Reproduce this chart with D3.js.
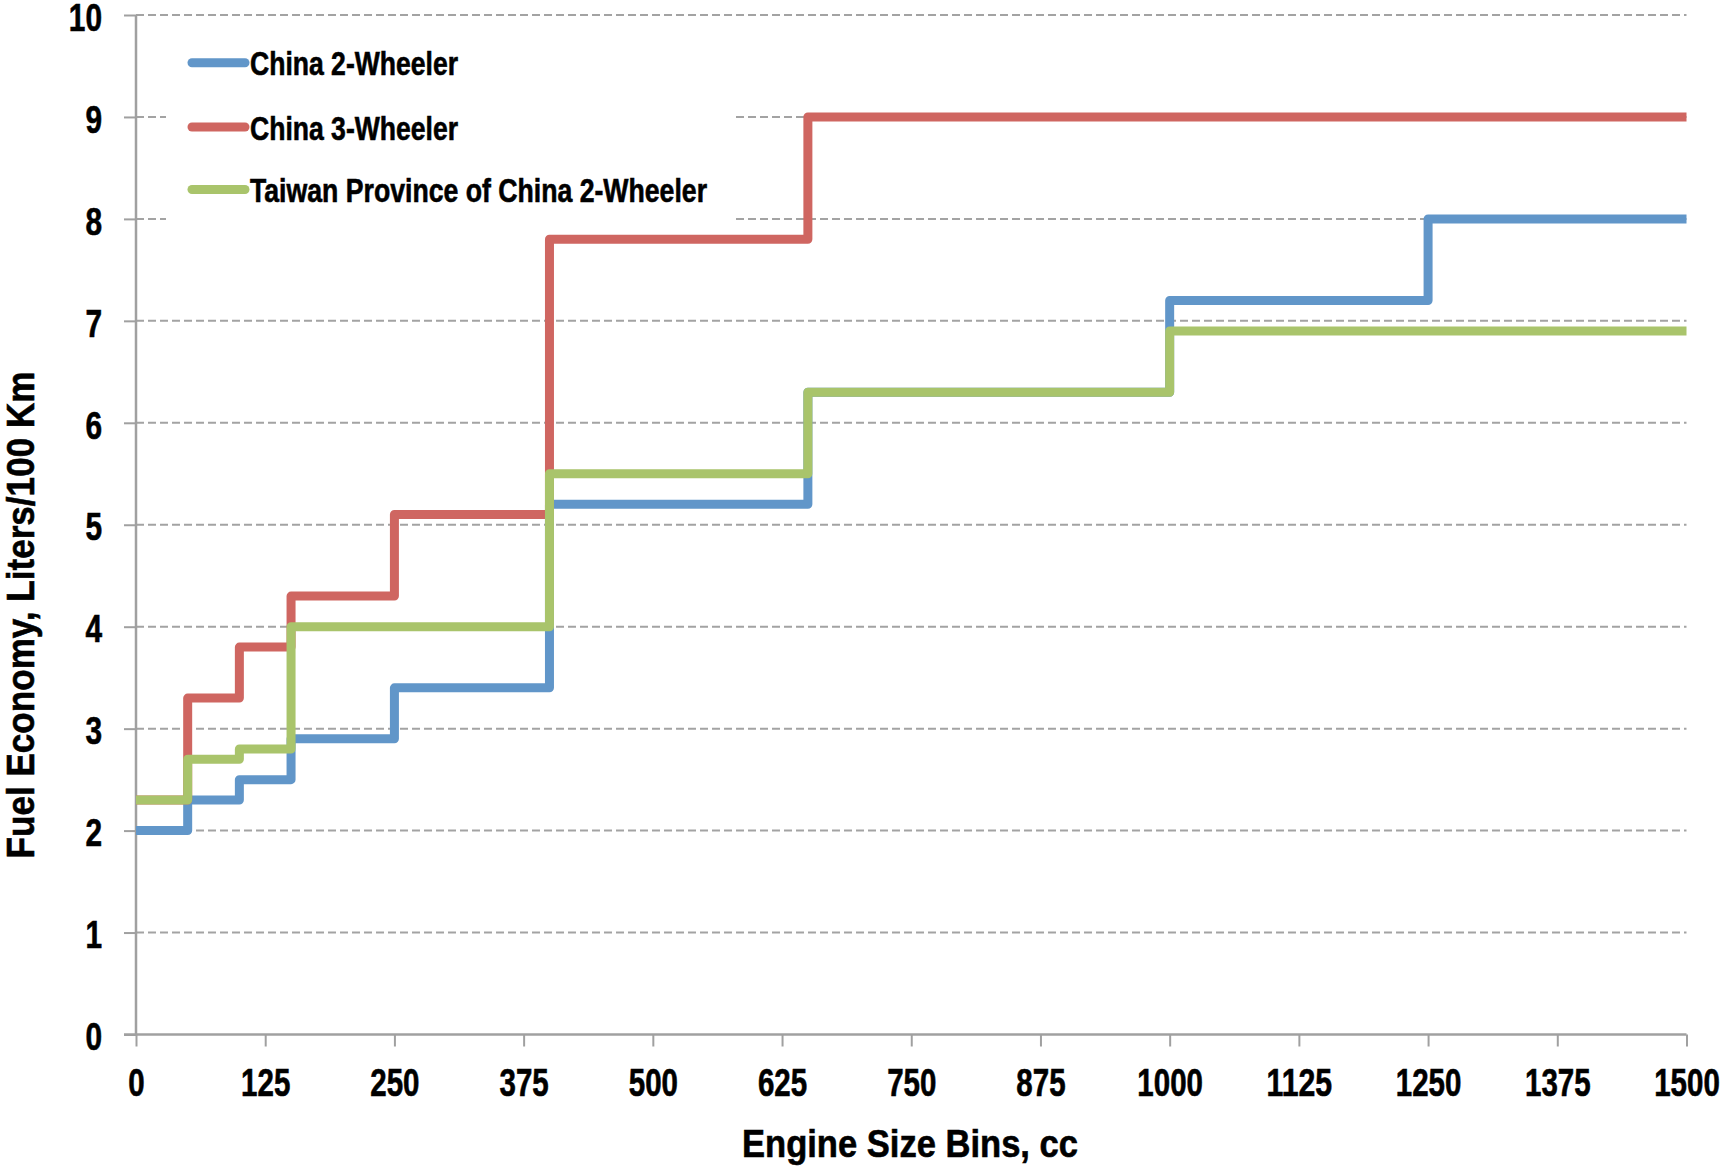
<!DOCTYPE html>
<html>
<head>
<meta charset="utf-8">
<script src="https://cdn.jsdelivr.net/npm/d3@7"></script>
<style>
  html, body { margin: 0; padding: 0; background: #ffffff; }
  svg { display: block; }
  text { font-family: "Liberation Sans Narrow", "Liberation Sans", Arial, sans-serif; font-weight: bold; fill: #000; stroke: #000; stroke-width: 0.6px; }
</style>
</head>
<body>
<svg id="chart" width="1726" height="1168"></svg>
<script>
// ---- data ----
const binEdges = [0, 50, 100, 150, 250, 400, 650, 1000, 1250, 1500];
const seriesNames = ["China 2-Wheeler", "China 3-Wheeler", "Taiwan Province of China 2-Wheeler"];
const china2Wheeler = [2.0, 2.3, 2.5, 2.9, 3.4, 5.2, 6.3, 7.2, 8.0];
const china3Wheeler = [2.3, 3.3, 3.8, 4.3, 5.1, 7.8, 9.0, 9.0, 9.0];
const taiwan2Wheeler = [2.3, 2.7, 2.8, 4.0, 4.0, 5.5, 6.3, 6.9, 6.9];
const xTickValues = [0, 125, 250, 375, 500, 625, 750, 875, 1000, 1125, 1250, 1375, 1500];
const yTickValues = [0, 1, 2, 3, 4, 5, 6, 7, 8, 9, 10];
const xTitle = "Engine Size Bins, cc";
const yTitle = "Fuel Economy, Liters/100 Km";

// ---- style ----
const colors = ["#6196C9", "#CF6661", "#A9C46B"];
const gridColor = "#A3A3A3";
const axisColor = "#A0A0A0";

const svg = d3.select("#chart");
const x = d3.scaleLinear().domain([0, 1500]).range([136, 1686.5]);
const y = d3.scaleLinear().domain([0, 10]).range([1034.5, 15]);

function fit(sel, w) {
  sel.attr("textLength", w).attr("lengthAdjust", "spacingAndGlyphs");
}

// gridlines (dashed)
svg.append("g")
  .selectAll("line")
  .data(yTickValues.filter(d => d > 0))
  .join("line")
  .attr("x1", x(0)).attr("x2", x(1500))
  .attr("y1", d => y(d)).attr("y2", d => y(d))
  .attr("stroke", gridColor)
  .attr("stroke-width", 2)
  .attr("stroke-dasharray", "8,4");

// legend background hides gridlines
svg.append("rect")
  .attr("x", 166).attr("y", 32).attr("width", 568).attr("height", 190)
  .attr("fill", "#ffffff");

// y axis
const yAxis = svg.append("g")
  .attr("transform", `translate(${x(0)},0)`)
  .call(d3.axisLeft(y).tickValues(yTickValues).tickSize(12).tickFormat(d3.format("d")));
yAxis.attr("font-family", null).attr("font-size", null);
yAxis.select(".domain").attr("stroke", axisColor).attr("stroke-width", 2.5)
  .attr("d", `M0,${y(10)}V${y(0)}`);
yAxis.selectAll(".tick line").attr("stroke", axisColor).attr("stroke-width", 2);
yAxis.selectAll(".tick text")
  .attr("x", -34).attr("dy", "0.4em")
  .attr("font-size", 38)
  .each(function(d) { fit(d3.select(this), String(d).length * 16.6); });

// x axis
const xAxis = svg.append("g")
  .attr("transform", `translate(0,${y(0)})`)
  .call(d3.axisBottom(x).tickValues(xTickValues).tickSize(12).tickFormat(d3.format("d")));
xAxis.attr("font-family", null).attr("font-size", null);
xAxis.select(".domain").attr("stroke", axisColor).attr("stroke-width", 2.5)
  .attr("d", `M${x(0) - 12},0H${x(1500)}`);
xAxis.selectAll(".tick line").attr("stroke", axisColor).attr("stroke-width", 2);
xAxis.selectAll(".tick text")
  .attr("y", 61).attr("dy", 0)
  .attr("font-size", 38)
  .each(function(d) { fit(d3.select(this), String(d).length * 16.4); });
svg.selectAll(".tick text").attr("fill", "#000");

// step lines
const allSeries = [china2Wheeler, china3Wheeler, taiwan2Wheeler];
const line = d3.line()
  .x(d => x(d[0])).y(d => y(d[1]))
  .curve(d3.curveStepAfter);
allSeries.forEach((vals, i) => {
  const pts = vals.map((v, j) => [binEdges[j], v]);
  pts.push([binEdges[binEdges.length - 1], vals[vals.length - 1]]);
  svg.append("path")
    .datum(pts)
    .attr("d", line)
    .attr("fill", "none")
    .attr("stroke", colors[i])
    .attr("stroke-width", 9)
    .attr("stroke-linejoin", "round")
    .attr("stroke-linecap", "butt");
});

// legend
const legendY = [62.7, 127, 189.5];
const legendW = [208, 208, 457];
seriesNames.forEach((name, i) => {
  svg.append("line")
    .attr("x1", 192).attr("x2", 245)
    .attr("y1", legendY[i]).attr("y2", legendY[i])
    .attr("stroke", colors[i])
    .attr("stroke-width", 9)
    .attr("stroke-linecap", "round");
  svg.append("text")
    .attr("x", 250).attr("y", legendY[i] + 12.5)
    .attr("font-size", 33)
    .text(name)
    .call(fit, legendW[i]);
});

// axis titles
svg.append("text")
  .attr("x", 910).attr("y", 1157)
  .attr("text-anchor", "middle")
  .attr("font-size", 38)
  .text(xTitle)
  .call(fit, 336);

svg.append("text")
  .attr("transform", "translate(34,615) rotate(-90)")
  .attr("text-anchor", "middle")
  .attr("font-size", 38)
  .text(yTitle)
  .call(fit, 487);
</script>
</body>
</html>
